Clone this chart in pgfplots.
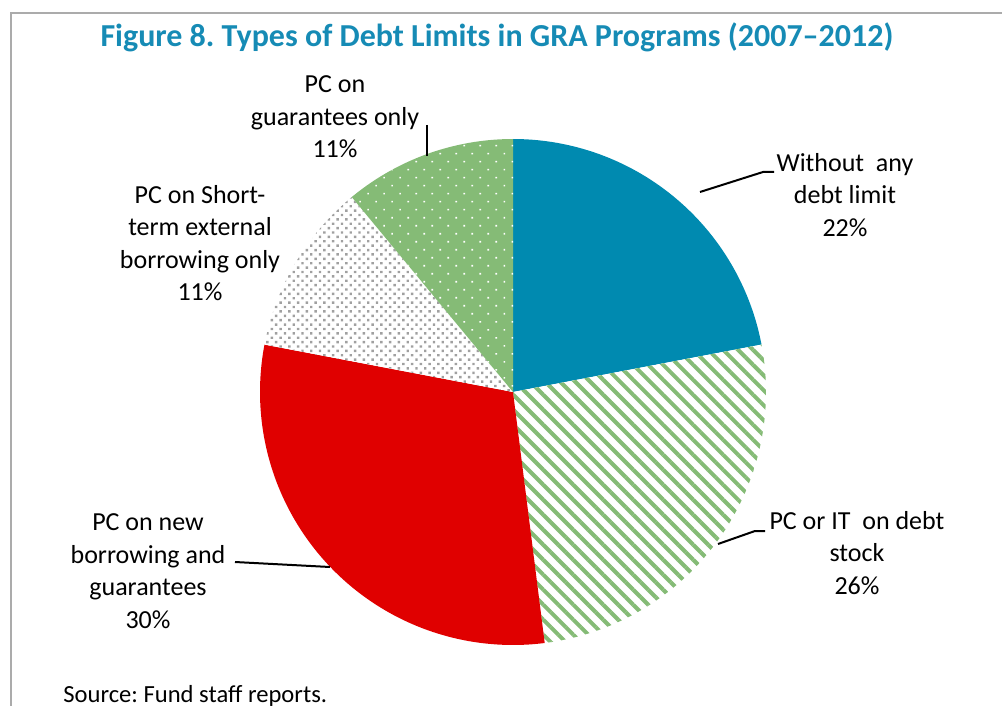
\documentclass[border=0pt]{standalone}
\usepackage{fontspec}
\setmainfont{Carlito}
\usepackage{pgfplots}
\pgfplotsset{compat=1.18}
\usetikzlibrary{patterns.meta}
\definecolor{pieblue}{HTML}{008AB0}
\definecolor{piegreen}{HTML}{85BB76}
\definecolor{piered}{HTML}{E00000}
\definecolor{dotgray}{HTML}{A0A0A0}
\definecolor{titleblue}{HTML}{168BB5}
\definecolor{framegray}{HTML}{ABABAB}
\frenchspacing
% slice: start (cumulative %), share (%), style
\newcommand{\pieslice}[3]{%
  \addplot[#3, domain=90-3.6*(#1+#2):90-3.6*(#1), samples=120, variable=\t]
    ({513+253*cos(\t)}, {392-253*sin(\t)}) -- (axis cs:513,392) -- cycle;}
\begin{document}
\begin{tikzpicture}
\begin{axis}[
  scale only axis, width=501pt, height=353pt,
  xmin=0, xmax=1002, ymin=0, ymax=706, y dir=reverse,
  hide axis, clip=false]
% frame
\addplot[color=framegray, line width=1pt] coordinates {(11,706) (11,13) (1002,13)};
% slices: Without any debt limit 22, PC or IT on debt stock 26, PC on new borrowing 30, short-term 11, guarantees 11
\pieslice{0}{22}{fill=pieblue, draw=none}
\pieslice{22}{26}{fill=white, draw=none}
\pieslice{22}{26}{draw=none, pattern={Lines[angle=-45,distance=5.3pt,line width=2pt]}, pattern color=piegreen}
\pieslice{48}{30}{fill=piered, draw=none}
\pieslice{78}{11}{fill=white, draw=none}
\pieslice{78}{11}{draw=none, pattern={Dots[angle=45,distance=3.1pt,radius=0.85pt]}, pattern color=dotgray}
\pieslice{89}{11}{fill=piegreen, draw=none}
\pieslice{89}{11}{draw=none, pattern={Dots[angle=45,distance=5.66pt,radius=0.55pt]}, pattern color=white}
% leader lines
\addplot[black, line width=1pt] coordinates {(700,192) (763,172) (774,172)};
\addplot[black, line width=1pt] coordinates {(718,544) (755,531) (765,531)};
\addplot[black, line width=1pt] coordinates {(427,125) (427,156)};
\addplot[black, line width=1pt] coordinates {(235,562) (330,567)};
% labels
\begin{scope}[every node/.style={align=center, inner sep=0pt, font=\fontsize{13}{16.3}\selectfont}]
\node at (axis cs:845,195) {Without\ \ any\\debt limit\\22\%};
\node at (axis cs:857,553) {PC or IT\ \ on debt\\stock\\26\%};
\node at (axis cs:148,571) {PC on new\\borrowing and\\guarantees\\30\%};
\node at (axis cs:200,243) {PC on Short-\\term external\\borrowing only\\11\%};
\node at (axis cs:335,117) {PC on\\guarantees only\\11\%};
\end{scope}
\node[anchor=base, inner sep=0pt, font=\fontsize{16}{19}\selectfont\bfseries, text=titleblue] at (axis cs:497,47) {Figure 8. Types of Debt Limits in GRA Programs (2007--2012)};
\node[anchor=base west, inner sep=0pt, font=\fontsize{12.3}{15}\selectfont] at (axis cs:63,702) {Source: Fund staff reports.};
\end{axis}
\pgfresetboundingbox
\useasboundingbox (current axis.south west) rectangle (current axis.north east);
\end{tikzpicture}
\end{document}
